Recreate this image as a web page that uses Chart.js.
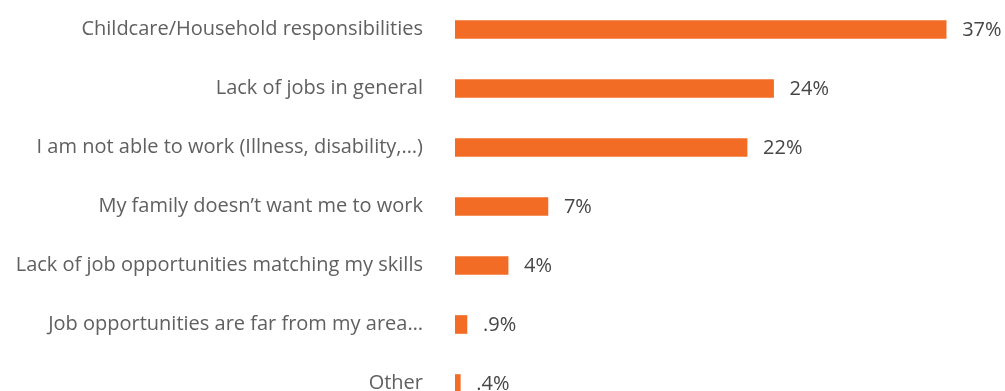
<!DOCTYPE html>
<html><head><meta charset="utf-8">
<script src="https://cdn.jsdelivr.net/npm/chart.js@4"></script>
<style>
html,body{margin:0;padding:0;background:#fff;overflow:hidden;}
canvas{display:block;}
</style></head>
<body>
<canvas id="c" width="1005" height="413"></canvas>
<script>
const categories = [
  "Childcare/Household responsibilities",
  "Lack of jobs in general",
  "I am not able to work (Illness, disability,…)",
  "My family doesn’t want me to work",
  "Lack of job opportunities matching my skills",
  "Job opportunities are far from my area…",
  "Other"
];
const values = [37, 24, 22, 7, 4, 0.9, 0.4];
const valueLabels = ["37%", "24%", "22%", "7%", "4%", ".9%", ".4%"];

const FONT = "'Open Sans', sans-serif";

const valueLabelPlugin = {
  id: 'valueLabels',
  afterDatasetsDraw(chart) {
    const ctx = chart.ctx;
    const meta = chart.getDatasetMeta(0);
    ctx.save();
    ctx.font = "20px " + FONT;
    ctx.fillStyle = "#464646";
    ctx.textAlign = "left";
    ctx.textBaseline = "middle";
    meta.data.forEach((bar, i) => {
      ctx.fillText(valueLabels[i], bar.x + 16, bar.y + 1);
    });
    ctx.restore();
  }
};

new Chart(document.getElementById('c'), {
  type: 'bar',
  data: {
    labels: categories,
    datasets: [{
      data: values,
      backgroundColor: '#F36C26',
      borderWidth: 0,
      barThickness: 18
    }]
  },
  options: {
    indexAxis: 'y',
    responsive: false,
    animation: false,
    layout: { padding: { top: 0, bottom: 0, left: 0, right: 19 } },
    plugins: { legend: { display: false }, tooltip: { enabled: false } },
    scales: {
      x: {
        min: 0, max: 40,
        display: false
      },
      y: {
        grid: { display: false, drawTicks: false },
        border: { display: false },
        ticks: {
          padding: 32,
          color: '#606060',
          font: { family: FONT, size: 20 }
        },
        afterFit(axis) {
          axis.width = 455;
          axis.paddingTop = 0;
          axis.paddingBottom = 0;
        }
      }
    }
  },
  plugins: [valueLabelPlugin]
});
</script>
</body></html>
